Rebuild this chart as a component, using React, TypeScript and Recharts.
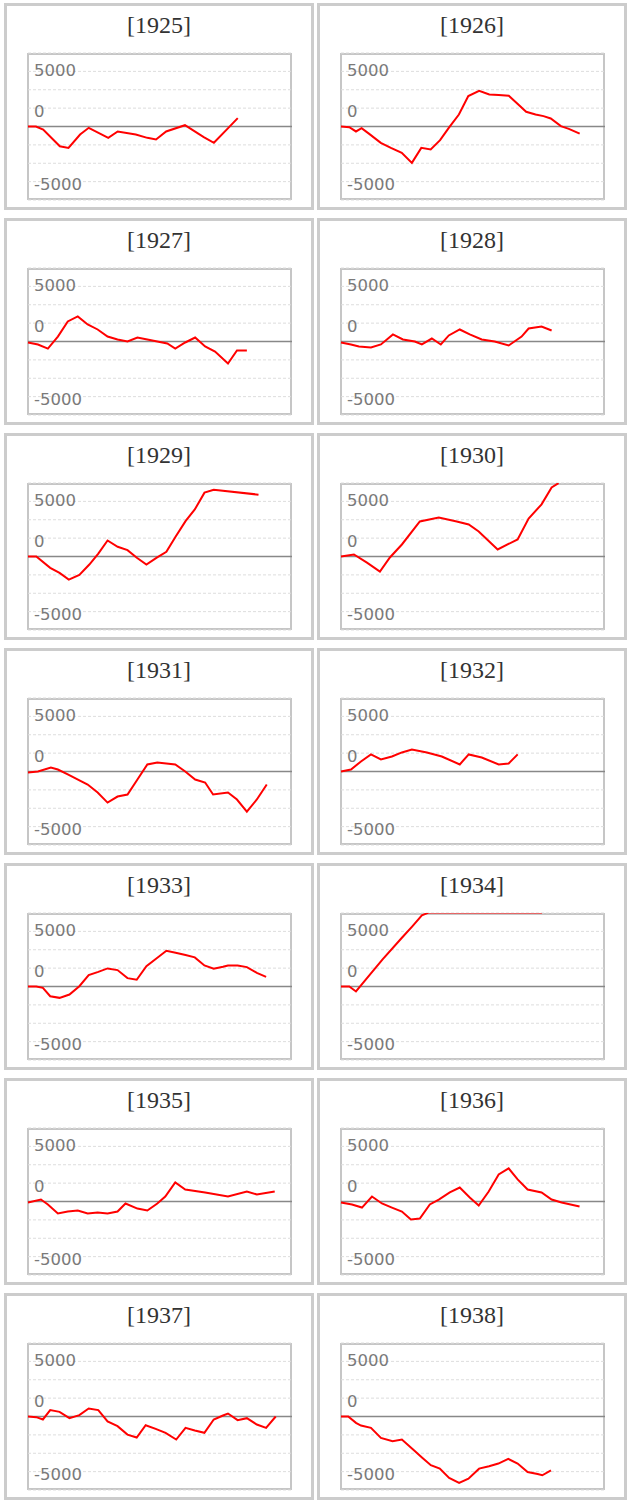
import { LineChart, Line, XAxis, YAxis, CartesianGrid, ReferenceLine } from "recharts";

// [day of year, value]
const years = [1925, 1926, 1927, 1928, 1929, 1930, 1931, 1932, 1933, 1934, 1935, 1936, 1937, 1938];

const s1925: [number, number][] = [
	[0, 0], [11, 0], [21, -270], [44, -1790], [56, -1940], [72, -730], [84, -120], [111, -1030],
	[124, -450], [149, -730], [165, -1030], [177, -1180], [191, -450], [217, 120], [243, -970],
	[257, -1480], [277, -120], [290, 760]
];
const s1926: [number, number][] = [
	[0, 0], [11.5, -60], [20.7, -450], [28.5, -150], [39, -670], [55, -1480], [69, -1940], [84, -2390],
	[98, -3300], [111, -1940], [124, -2090], [137, -1240], [149, -120], [163, 1090], [176, 2760],
	[191, 3240], [205, 2910], [218, 2850], [232, 2790], [244, 2060], [256, 1330], [269, 1090],
	[280, 940], [290, 730], [304, 30], [315, -210], [330, -640]
];
const s1927: [number, number][] = [
	[0, -90], [13.8, -270], [27.5, -640], [41.3, 450], [55, 1820], [68.8, 2270], [82.5, 1550],
	[96.3, 1090], [110, 450], [123.8, 180], [137.6, 0], [151.3, 360], [165, 180], [178.8, 0],
	[192.6, -180], [203.6, -640], [217.4, -90], [231.1, 360], [244.9, -450], [258.6, -910],
	[276.5, -2000], [288.9, -820], [302.6, -820]
];
const s1928: [number, number][] = [
	[0, -90], [13.8, -270], [24.8, -450], [41.4, -550], [55.2, -270], [71.8, 640], [85.6, 180],
	[102.1, 0], [111.8, -270], [125.6, 270], [138, -270], [149, 550], [164.2, 1090], [178, 640],
	[194.6, 180], [212.5, 0], [231.8, -360], [249.7, 450], [259.4, 1180], [277.3, 1360], [291.2, 1000]
];
const s1929: [number, number][] = [
	[0, 0], [11.5, 0], [30.7, -1030], [43.6, -1480], [56.4, -2090], [71, -1670], [84.8, -730],
	[97.2, 270], [110, 1450], [124, 880], [137.6, 580], [150.5, -120], [163.7, -730], [177.5, -120],
	[191.3, 420], [204, 1790], [217.8, 3210], [230.6, 4270], [244, 5790], [256.8, 6060], [318.7, 5610]
];
const s1930: [number, number][] = [
	[0, 0], [17.9, 180], [35.9, -550], [53.8, -1360], [67.6, -90], [84.2, 1090], [109, 3180],
	[135.2, 3540], [160, 3180], [176.6, 2910], [190.4, 2270], [216.6, 640], [244.2, 1550],
	[259.4, 3450], [277.3, 4730], [291.2, 6270], [300.8, 6650]
];
const s1931: [number, number][] = [
	[0, -90], [13.8, 0], [31.6, 360], [41.3, 180], [55, -270], [82.5, -1180], [96.3, -1910],
	[110, -2820], [123.8, -2270], [137.6, -2090], [151.3, -730], [165, 640], [178.8, 820],
	[203.6, 640], [217.4, 0], [231.1, -730], [244.9, -1000], [255.9, -2090], [276.5, -1910],
	[288.9, -2540], [302.6, -3640], [316.4, -2540], [330.1, -1180]
];
const s1932: [number, number][] = [
	[0, 0], [13.8, 180], [27.6, 910], [41.4, 1550], [55.2, 1090], [70.4, 1360], [84.2, 1730],
	[98, 2000], [118.7, 1730], [139.4, 1360], [164.2, 640], [176.6, 1550], [194.6, 1270],
	[218, 640], [231.8, 730], [244.3, 1550]
];
const s1933: [number, number][] = [
	[0, 0], [11.5, 0], [20.6, -120], [30.7, -880], [43.6, -1030], [57.3, -730], [71, 30],
	[83.9, 1030], [97.2, 1330], [110, 1640], [123.8, 1490], [137.5, 760], [150.3, 610],
	[163.7, 1850], [177.5, 2540], [191.3, 3240], [204.1, 3060], [217.8, 2850], [230.6, 2640],
	[243.9, 1910], [256.8, 1610], [269.6, 1790], [276.5, 1910], [289.8, 1910], [302.6, 1760],
	[316.4, 1240], [329.2, 880]
];
const s1934: [number, number][] = [
	[0, 0], [11.5, 0], [20.7, -450], [34.5, 640], [57.5, 2460], [84.2, 4420], [98.9, 5480],
	[111.8, 6450], [121.9, 6720], [200, 6720], [278, 6720]
];
const s1935: [number, number][] = [
	[0, -90], [17.9, 180], [27.5, -270], [41.3, -1090], [55, -910], [68.8, -820], [82.5, -1090],
	[96.3, -1000], [110, -1090], [123.8, -910], [134.8, -180], [151.3, -640], [165, -820],
	[178.8, -180], [189.8, 450], [203.6, 1730], [217.4, 1090], [244.9, 820], [276.5, 450],
	[302.6, 910], [316.4, 640], [341.1, 910]
];
const s1936: [number, number][] = [
	[0, -90], [15.2, -270], [29, -550], [42.8, 450], [56.6, -180], [70.4, -550], [84.2, -910],
	[96.6, -1640], [109, -1550], [122.8, -270], [135.2, 180], [150.4, 820], [164.2, 1270],
	[178, 360], [190.4, -360], [204.2, 910], [218, 2450], [231.8, 3000], [244.2, 2000],
	[258, 1090], [277.3, 820], [291.2, 180], [305, -90], [329.8, -450]
];
const s1937: [number, number][] = [
	[0, 0], [11.5, -60], [20.6, -270], [30.7, 580], [43.6, 420], [57.3, -150], [71, 120],
	[83.9, 730], [97.2, 580], [110, -450], [123.8, -880], [137.5, -1640], [150.3, -1910],
	[162.7, -790], [176.5, -1120], [190.2, -1480], [204.9, -2090], [217.8, -1030], [230.6, -1270],
	[243.9, -1480], [256.8, -270], [269.6, 90], [276.5, 270], [289.8, -330], [302.6, -150],
	[316.4, -730], [329.2, -1030], [342.5, 0]
];
const s1938: [number, number][] = [
	[0, 0], [10, 0], [20.7, -580], [27.6, -820], [41.4, -1030], [55.2, -1940], [71.3, -2240],
	[84.2, -2090], [98.9, -2940], [112.7, -3760], [124.2, -4420], [136.6, -4730], [149.5, -5570],
	[163.3, -6030], [176.2, -5640], [190.9, -4730], [204.7, -4510], [217.6, -4270], [231.3, -3850],
	[244.2, -4270], [258, -5030], [271.8, -5210], [278.3, -5330], [290.3, -4880]
];

const series = [s1925, s1926, s1927, s1928, s1929, s1930, s1931, s1932, s1933, s1934, s1935, s1936, s1937, s1938];

const yMax = 20000 / 3;
const yTicks = [-5000, -10000 / 3, -5000 / 3, 5000 / 3, 10000 / 3, 5000];
const tickText: Record<string, string> = { "5000": "5000", "1667": "0", "-5000": "-5000" };
const tickShift: Record<string, number> = { "5000": 5, "1667": 9, "-5000": 8 };

const renderYTick = (props: any) => {
	const key = String(Math.round(Number(props?.payload?.value)));
	const label = tickText[key];
	if (!label) return <g />;
	return (
		<text x={27} y={props.y + tickShift[key]} fill="#7a7a7a" fontSize={16.5} fontFamily="'DejaVu Sans', Verdana, sans-serif" textAnchor="start">
			{label}
		</text>
	);
};

const Panel = ({ year, data, col, row }: { year: number; data: [number, number][]; col: number; row: number }) => {
	const rows = data.map(([day, value]) => ({ day, value }));
	return (
		<div
			style={{
				position: "absolute",
				left: 4 + col * 313,
				top: 3 + row * 215,
				width: 310,
				height: 207,
				border: "3px solid #cccccc",
				boxSizing: "border-box",
				background: "#fff"
			}}>
			<div
				style={{
					position: "absolute",
					left: 0,
					right: 0,
					top: 7,
					textAlign: "center",
					fontFamily: "'Liberation Serif', serif",
					fontSize: 24,
					lineHeight: "24px",
					color: "#333"
				}}>
				[{year}]
			</div>
			<div
				style={{
					position: "absolute",
					left: 20,
					top: 47,
					width: 265,
					height: 147,
					border: "2px solid #c6c6c6",
					boxSizing: "border-box"
				}}
			/>
			<div style={{ position: "absolute", left: 0, top: 0 }}>
				<LineChart width={304} height={201} data={rows} margin={{ top: 47, right: 19, bottom: 7, left: 20 }}>
					<CartesianGrid vertical={false} stroke="#dddddd" strokeDasharray="3 2" />
					<XAxis type="number" dataKey="day" domain={[0, 365]} hide />
					<YAxis
						type="number"
						domain={[-yMax, yMax]}
						ticks={yTicks}
						allowDataOverflow
						width={1}
						axisLine={false}
						tickLine={false}
						tick={renderYTick}
						interval={0}
					/>
					<ReferenceLine y={0} stroke="#888888" strokeWidth={1.5} />
					<Line type="linear" dataKey="value" stroke="#ff0000" strokeWidth={2} dot={false} isAnimationActive={false} />
				</LineChart>
			</div>
		</div>
	);
};

export default function App() {
	return (
		<div style={{ position: "relative", width: 629, height: 1503 }}>
			<style>{`body{margin:0}`}</style>
			{years.map((year, i) => (
				<Panel key={year} year={year} data={series[i]} col={i % 2} row={Math.floor(i / 2)} />
			))}
		</div>
	);
}
